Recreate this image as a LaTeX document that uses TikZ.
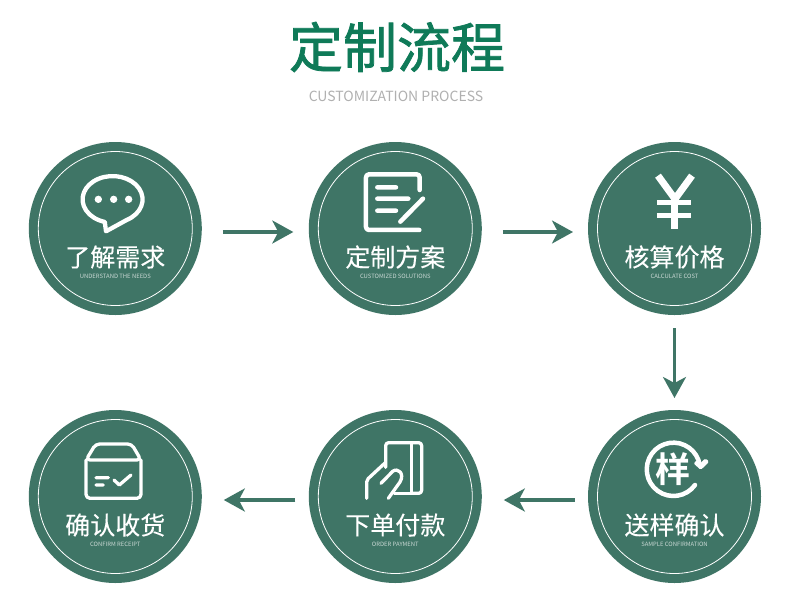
\documentclass[tikz,border=0pt]{standalone}
\usepackage{fontspec}
\usetikzlibrary{arrows.meta}
\newfontfamily\cjkreg[FakeBold=0.12]{Noto Sans CJK SC}
\newfontfamily\cjktitle[FakeBold=1.4]{Noto Sans CJK SC}
\newfontfamily\cjkbold{Noto Sans CJK SC Bold}
\newfontfamily\latin{Noto Sans CJK SC}
\definecolor{tealc}{HTML}{3F7566}
\definecolor{titlegreen}{HTML}{0F7A58}
\definecolor{subgray}{HTML}{B0B0B0}
\tikzset{
  disc/.style={circle,fill=tealc,minimum size=173pt,inner sep=0pt,outer sep=0pt},
  ringline/.style={draw=white,line width=0.8pt},
  labelcn/.style={text=white,font=\cjkreg\fontsize{25}{25}\selectfont,inner sep=0pt},
  labelen/.style={text=white!72!tealc,font=\latin\fontsize{5.9}{6}\selectfont,inner sep=0pt},
  flowarrow/.style={draw=tealc,line width=3.2pt,-{Stealth[length=21pt,width=23pt,inset=6pt]}},
  icon/.style={draw=white,line width=4.5pt,line cap=round,line join=round},
  iconthin/.style={draw=white,line width=3.3pt,line cap=round,line join=round},
  zf/.style 2 args={shift={(#1,#2)},x=0.3333pt,y=-0.3333pt},
}
\begin{document}
\begin{tikzpicture}[x=1pt,y=-1pt]
\useasboundingbox (0,0) rectangle (790,606);
\fill[white] (0,0) rectangle (790,606);
\node[text=titlegreen,font=\cjktitle\fontsize{54}{54}\selectfont,inner sep=0pt] (title) at (397,47) {定制流程};
\node[text=subgray,font=\latin\fontsize{14}{16}\selectfont,inner sep=0pt] (subtitle) at (396,96) {CUSTOMIZATION PROCESS};
\foreach \n/\x/\y/\cn/\en in {
 c1/115.3/228.5/了解需求/UNDERSTAND THE NEEDS,
 c2/395.3/228.5/定制方案/CUSTOMIZED SOLUTIONS,
 c3/674.5/228.5/核算价格/CALCULATE COST,
 c4/674.5/496.5/送样确认/SAMPLE CONFIRMATION,
 c5/395.3/496.5/下单付款/ORDER PAYMENT,
 c6/115.3/496.5/确认收货/CONFIRM RECEIPT}{
  \node[disc] (\n) at (\x,\y) {};
  \draw[ringline] (\n) circle[radius=77];
  \node[labelcn] (\n-cn) at (\x,\y+28.5) {\cn};
  \node[labelen] (\n-en) at (\x,\y+47.8) {\en};
}
% connectors
\draw[flowarrow] ([xshift=21pt,yshift=-3.5pt]c1.east) -- ([xshift=-15.5pt,yshift=-3.5pt]c2.west);
\draw[flowarrow] ([xshift=21pt,yshift=-3.5pt]c2.east) -- ([xshift=-15pt,yshift=-3.5pt]c3.west);
\draw[flowarrow] ([yshift=-13pt]c3.south) -- ([yshift=12pt]c4.north);
\draw[flowarrow] ([xshift=-13.5pt,yshift=-3.5pt]c4.west) -- ([xshift=22pt,yshift=-3.5pt]c5.east);
\draw[flowarrow] ([xshift=-13.5pt,yshift=-3.5pt]c5.west) -- ([xshift=22pt,yshift=-3.5pt]c6.east);
% icon 1 bubble
\begin{scope}[zf={20}{135}]
 \draw[icon,line width=4.3pt] (320,255) arc[start angle=62,end angle=-255,x radius=90,y radius=70] -- (258,289) -- cycle;
 \fill[white] (235,193) circle[radius=11] (281,193) circle[radius=11] (326,193) circle[radius=11];
\end{scope}
% icon 2 document
\begin{scope}[zf={300}{135}]
 \draw[icon,rounded corners=3pt] (358,285) -- (198,285) -- (198,118) -- (359,118) -- (359,165);
 \draw[icon] (232,157) -- (288,157) (232,191) -- (325,191) (232,227) -- (288,227) (301,260) -- (369,191);
\end{scope}
% icon 3 yen
\begin{scope}[zf={580}{135}]
 \draw[white,line width=7pt] (234,122) -- (285,192) -- (336,122);
 \draw[white,line width=7pt] (285,190) -- (285,282);
 \draw[white,line width=5pt] (231,204) -- (332,204) (231,241) -- (332,241);
\end{scope}
% icon 4 sample
\begin{scope}[zf={580}{403}]
 \draw[icon] (345,246) arc[start angle=36,end angle=350,radius=80];
 \fill[white,rounded corners=1.5pt] (340,180) -- (352,172) -- (361,181) -- (376,166) -- (388,176) -- (362,201) -- cycle;
 \node[text=white,font=\cjkbold\fontsize{35}{35}\selectfont,inner sep=0pt] (sample) at (280,197) {样};
\end{scope}
% icon 5 card in hand
\begin{scope}[zf={355}{430}]
 \draw[iconthin,rounded corners=3pt] (92,112) -- (92,38) -- (200,38) -- (200,190) -- (170,190);
 \draw[iconthin,line width=3pt] (170,38) -- (170,190);
 \draw[iconthin,rounded corners=2pt] (35,205) -- (35,150) -- (92,97);
 \draw[iconthin] (78,160) -- (113,124) .. controls (128,112) and (150,130) .. (135,156) -- (100,205);
 \draw[iconthin] (118,190) -- (170,190);
\end{scope}
% icon 6 box
\begin{scope}[zf={75}{430}]
 \draw[iconthin,rounded corners=4pt] (33,90) -- (33,205) -- (198,205) -- (198,90);
 \draw[iconthin,rounded corners=4pt] (33,90) -- (62,42) -- (170,42) -- (198,90) -- cycle;
 \draw[iconthin] (63,143) -- (100,143) (63,165) -- (85,165) (117,150) -- (133,165) -- (168,135);
\end{scope}
\end{tikzpicture}
\end{document}
